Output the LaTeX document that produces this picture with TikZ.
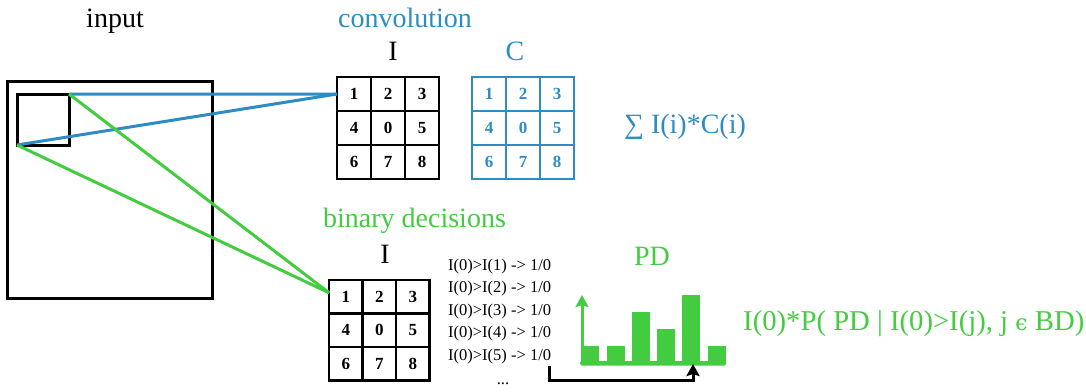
\documentclass[tikz,border=0pt]{standalone}
\usepackage{fontspec}
\setmainfont{Liberation Serif}
\newfontfamily\symserif{DejaVu Serif}
\usetikzlibrary{arrows.meta,matrix}
\definecolor{cblue}{RGB}{44,140,195}
\definecolor{cgreen}{RGB}{68,204,64}
\begin{document}
\begin{tikzpicture}[x=1pt,y=-1pt,
  big/.style={font=\fontsize{28}{33}\selectfont,inner sep=0pt},
  small/.style={font=\fontsize{16.5}{20}\selectfont,inner sep=0pt},
  cellbox/.style={draw,line width=2.5pt,minimum size=#1,inner sep=0pt,
    font=\fontsize{17}{19}\selectfont\bfseries},
  gridmat/.style={matrix of nodes,column sep=-2.5pt,row sep=-2.5pt,
    inner sep=0pt,outer sep=0pt,anchor=north west},
  sq/.style={draw,line width=3pt,outer sep=0pt,inner sep=0pt},
  conn/.style={line width=3pt},
  tip/.style={-{Stealth[length=12pt,width=13pt,inset=2pt]}}
]
\useasboundingbox (0,0) rectangle (1086,391);

% input
\node[big,anchor=base] (inlabel) at (115,27) {input};
\node[sq,minimum width=205pt,minimum height=217pt] (inp) at (109.5,189.5) {};
\node[sq,minimum width=52pt,minimum height=51pt] (win) at (43,119.5) {};

% convolution
\node[big,anchor=base,text=cblue] (convlabel) at (405,27) {convolution};
\node[big,anchor=base] (ilabel1) at (393,60) {I};
\node[big,anchor=base,text=cblue] (clabel) at (515,60) {C};
\matrix[gridmat,nodes={cellbox=34pt}] (conv) at (335.75,75.75) {
  1 & 2 & 3 \\ 4 & 0 & 5 \\ 6 & 7 & 8 \\ };
\matrix[gridmat,nodes={cellbox=34pt,draw=cblue,text=cblue}] (cmat) at (470.75,75.75) {
  1 & 2 & 3 \\ 4 & 0 & 5 \\ 6 & 7 & 8 \\ };
\node[big,anchor=base,text=cblue] (sumtxt) at (685,133) {∑ I(i)*C(i)};

% binary decisions
\node[big,anchor=base,text=cgreen] (bdlabel) at (414.5,227) {binary decisions};
\node[big,anchor=base] (ilabel2) at (385,263) {I};
\matrix[gridmat,nodes={cellbox=33.5pt}] (bd) at (327.75,278.75) {
  1 & 2 & 3 \\ 4 & 0 & 5 \\ 6 & 7 & 8 \\ };

\node[small,anchor=base west] (l1) at (448,270) {I(0)>I(1) -> 1/0};
\node[small,anchor=base west] (l2) at (448,292.5) {I(0)>I(2) -> 1/0};
\node[small,anchor=base west] (l3) at (448,315) {I(0)>I(3) -> 1/0};
\node[small,anchor=base west] (l4) at (448,337.5) {I(0)>I(4) -> 1/0};
\node[small,anchor=base west] (l5) at (448,360) {I(0)>I(5) -> 1/0};
\node[small,anchor=base] (ldots) at (503,384) {...};

% PD histogram
\node[big,anchor=base,text=cgreen] (pdlabel) at (652,265) {PD};
\fill[cgreen,rounded corners=1.5pt] (580,361) rectangle (726,365.5);
\fill[cgreen] (583,346) rectangle (599,363);
\fill[cgreen] (607,346) rectangle (625,363);
\fill[cgreen] (632,312) rectangle (650,363);
\fill[cgreen] (657,329) rectangle (675,363);
\fill[cgreen] (682,295) rectangle (700,363);
\fill[cgreen] (708,346) rectangle (726,363);
\coordinate (axbot) at (582,364);
\coordinate (axtop) at (582,295);
\draw[conn,cgreen,tip] (axbot) -- (axtop);
\node[anchor=base west,inner sep=0pt,font=\fontsize{28.7}{33}\selectfont,text=cgreen] (formula) at (743,330)
  {I(0)*P( PD | I(0)>I(j), j {\symserif\fontsize{22}{26}\selectfont ϵ} BD)};

% arrow from list to histogram
\coordinate (a1) at (549,366);
\coordinate (a2) at (693,364);
\draw[conn,black,tip] (a1) -- ++(0,14) -| (a2);

% connectors
\draw[conn,cblue] (win.north east) -- (conv-1-1.west);
\draw[conn,cblue] (win.south west) -- (conv-1-1.west);
\draw[conn,cgreen] (win.north east) -- ([yshift=4pt]bd-1-1.west);
\draw[conn,cgreen] (win.south west) -- ([yshift=4pt]bd-1-1.west);
\end{tikzpicture}
\end{document}
